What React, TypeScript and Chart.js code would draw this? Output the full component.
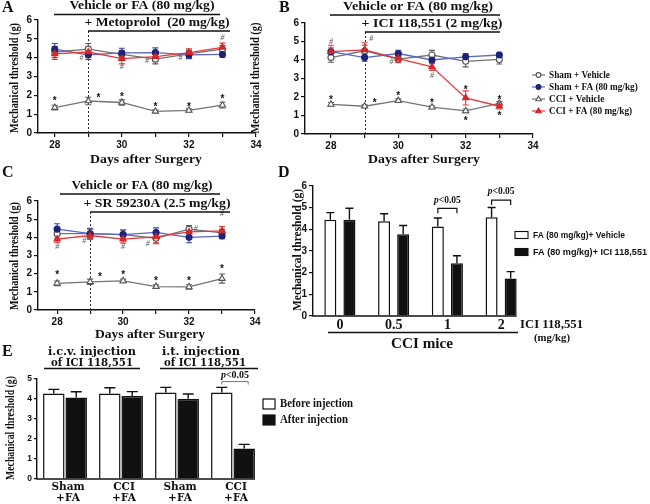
import React, { useEffect, useRef } from 'react';
import { Chart, registerables } from 'chart.js';

Chart.register(...registerables);

const W = 650;
const H = 504;
const SERIF = '"Liberation Serif", "Times New Roman", serif';
const SANS = '"Liberation Sans", Arial, sans-serif';
const WIDE = '"DejaVu Serif", serif';
const INK = '#111';

// ---------------- data ----------------
const days = [28, 29, 30, 31, 32, 33];
const dayTicks = [28, 29, 30, 31, 32, 33, 34];

// Panel A (Metoprolol)
const aShamVeh = [4.3, 4.45, 4.18, 3.92, 4.2, 4.45];
const aShamVehErr = [0.3, 0.3, 0.2, 0.25, 0.2, 0.2];
const aShamFA = [4.45, 4.15, 4.25, 4.27, 4.15, 4.17];
const aShamFAErr = [0.3, 0.25, 0.25, 0.25, 0.2, 0.15];
const aCciVeh = [1.35, 1.7, 1.62, 1.15, 1.2, 1.48];
const aCciVehErr = [0.12, 0.2, 0.14, 0.08, 0.08, 0.15];
const aCciFA = [4.2, 4.3, 3.95, 4.05, 4.27, 4.55];
const aCciFAErr = [0.3, 0.3, 0.28, 0.25, 0.2, 0.22];
const aStars = [[28, 1.8], [29.3, 2.0], [30, 2.05], [31, 1.5], [32, 1.5], [33, 1.9]];
const aHashes = [[28.8, 4.0], [30, 3.5], [30.75, 3.85], [31.75, 3.97], [33, 5.05]];

// Panel B (ICI 118,551)
const bShamVeh = [4.13, 4.5, 4.05, 4.27, 3.93, 4.03];
const bShamVehErr = [0.25, 0.3, 0.2, 0.25, 0.3, 0.25];
const bShamFA = [4.45, 4.13, 4.35, 4.0, 4.17, 4.27];
const bShamFAErr = [0.2, 0.2, 0.18, 0.2, 0.18, 0.15];
const bCciVeh = [1.6, 1.5, 1.8, 1.45, 1.25, 1.65];
const bCciVehErr = [0.1, 0.08, 0.1, 0.08, 0.1, 0.1];
const bCciFA = [4.45, 4.55, 4.08, 3.63, 1.95, 1.5];
const bCciFAErr = [0.35, 0.38, 0.2, 0.2, 0.38, 0.15];
const bStars = [[28, 1.95], [29.3, 1.8], [30, 2.15], [31, 1.8], [32, 2.5], [32, 0.85], [33, 1.95], [33, 1.1]];
const bHashes = [[28, 5.0], [29.2, 5.15], [29.8, 3.9], [31, 3.15]];

// Panel C (SR 59230A)
const cShamVeh = [4.2, 4.2, 4.15, 3.95, 4.45, 4.25];
const cShamVehErr = [0.25, 0.3, 0.25, 0.3, 0.2, 0.2];
const cShamFA = [4.45, 4.2, 4.15, 4.27, 4.0, 4.07];
const cShamFAErr = [0.3, 0.25, 0.25, 0.25, 0.3, 0.15];
const cCciVeh = [1.47, 1.55, 1.6, 1.29, 1.27, 1.73];
const cCciVehErr = [0.13, 0.15, 0.1, 0.1, 0.12, 0.25];
const cCciFA = [3.9, 4.1, 3.9, 4.02, 4.3, 4.35];
const cCciFAErr = [0.2, 0.2, 0.22, 0.32, 0.2, 0.25];
const cStars = [[28, 2.05], [29.3, 1.96], [30, 2.05], [31, 1.73], [32, 1.73], [33, 2.38]];
const cHashes = [[28, 3.45], [28.82, 3.82], [30, 3.45], [30.75, 3.64], [32.2, 4.45], [33, 5.3]];

// Panel D
const dCats = ['0', '0.5', '1', '2'];
const dVeh = [4.44, 4.37, 4.13, 4.56];
const dVehErr = [0.33, 0.35, 0.39, 0.45];
const dIci = [4.44, 3.77, 2.44, 1.73];
const dIciErr = [0.53, 0.41, 0.34, 0.32];

// Panel E
const eCats = [['Sham', '+FA'], ['CCI', '+FA'], ['Sham', '+FA'], ['CCI', '+FA']];
const eBefore = [4.28, 4.28, 4.33, 4.33];
const eBeforeErr = [0.2, 0.28, 0.25, 0.25];
const eAfter = [4.08, 4.15, 4.01, 1.53];
const eAfterErr = [0.28, 0.22, 0.24, 0.2];

// ---------------- styles ----------------
const SERIES: any[] = [
  { key: 'cf', label: 'CCI + FA (80 mg/kg)', line: '#e8383d', err: '#e33a3a', fill: '#e02a2a', stroke: '#d42020', shape: 'triangle', r: 3.6 },
  { key: 'sf', label: 'Sham + FA (80 mg/kg)', line: '#5a68c4', err: '#3a48aa', fill: '#1d2478', stroke: '#1d2478', shape: 'circle', r: 3 },
  { key: 'sv', label: 'Sham + Vehicle', line: '#747474', err: '#5c5c5c', fill: '#ffffff', stroke: '#555', shape: 'circle', r: 3 },
  { key: 'cv', label: 'CCI + Vehicle', line: '#747474', err: '#5c5c5c', fill: '#ffffff', stroke: '#555', shape: 'triangle', r: 3.6 },
];
const LEGEND_ORDER = ['sv', 'sf', 'cv', 'cf'];

function drawText(ctx: any, s: string, x: number, y: number, font: string, o: any = {}) {
  ctx.save();
  ctx.font = font;
  ctx.fillStyle = o.color || INK;
  ctx.textBaseline = 'middle';
  ctx.textAlign = 'left';
  const w = ctx.measureText(s).width;
  ctx.translate(x, y);
  if (o.rot) ctx.rotate(-Math.PI / 2);
  const sx = o.width ? o.width / w : o.sx || 1;
  ctx.scale(sx, 1);
  const align = o.align || 'center';
  const dx = align === 'center' ? -w / 2 : align === 'right' ? -w : 0;
  ctx.fillText(s, dx, 0);
  ctx.restore();
}

function hline(ctx: any, x1: number, x2: number, y: number, lw = 1.3, color = INK) {
  ctx.save();
  ctx.strokeStyle = color;
  ctx.lineWidth = lw;
  ctx.beginPath();
  ctx.moveTo(x1, y);
  ctx.lineTo(x2, y);
  ctx.stroke();
  ctx.restore();
}

function pText(ctx: any, cx: number, y: number, size: number, color = INK) {
  ctx.save();
  const f1 = `italic bold ${size}px ${SERIF}`;
  const f2 = `bold ${size}px ${SERIF}`;
  ctx.font = f1;
  const w1 = ctx.measureText('p').width;
  ctx.font = f2;
  const w2 = ctx.measureText('<0.05').width;
  const x = cx - (w1 + w2) / 2;
  ctx.fillStyle = color;
  ctx.textBaseline = 'middle';
  ctx.textAlign = 'left';
  ctx.font = f1;
  ctx.fillText('p', x, y);
  ctx.font = f2;
  ctx.fillText('<0.05', x + w1, y);
  ctx.restore();
}

function marker(ctx: any, s: any, x: number, y: number) {
  ctx.save();
  ctx.fillStyle = s.fill;
  ctx.strokeStyle = s.stroke;
  ctx.lineWidth = 1.1;
  ctx.beginPath();
  if (s.shape === 'circle') {
    ctx.arc(x, y, s.r, 0, Math.PI * 2);
  } else {
    const r = s.r;
    ctx.moveTo(x, y - r);
    ctx.lineTo(x + r * 0.95, y + r * 0.6);
    ctx.lineTo(x - r * 0.95, y + r * 0.6);
    ctx.closePath();
  }
  ctx.fill();
  ctx.stroke();
  ctx.restore();
}

const axisGrid = { display: true, drawOnChartArea: false, drawTicks: true, tickLength: 4, color: INK, lineWidth: 1.2 };
const axisBorder = { display: true, color: INK, width: 1.4 };

function padFor(area: any, yW: number, xH: number) {
  return { left: area.l - yW, right: W - area.r, top: area.t, bottom: H - area.b - xH };
}

// ---------------- panel layouts ----------------
const panelA = {
  area: { l: 38, r: 256, t: 20, b: 133 }, xmin: 27.5,
  vals: { sv: aShamVeh, sf: aShamFA, cv: aCciVeh, cf: aCciFA },
  errs: { sv: aShamVehErr, sf: aShamFAErr, cv: aCciVehErr, cf: aCciFAErr },
  stars: aStars, hashes: aHashes,
  letter: { t: 'A', x: 2, y: 8 },
  titles: [
    { t: 'Vehicle or FA (80 mg/kg)', cx: 142, y: 6, w: 145, x1: 54, x2: 220, ly: 14.5 },
    { t: '+ Metoprolol  (20 mg/kg)', cx: 157, y: 23, w: 145, x1: 88, x2: 230, ly: 31 },
  ],
  xTitle: { cx: 146, y: 160, w: 112 },
  yTitle: { cx: 15, cy: 78, w: 110 },
  legend: false,
};
const panelB = {
  area: { l: 305, r: 533, t: 23, b: 134 }, xmin: 27.23,
  vals: { sv: bShamVeh, sf: bShamFA, cv: bCciVeh, cf: bCciFA },
  errs: { sv: bShamVehErr, sf: bShamFAErr, cv: bCciVehErr, cf: bCciFAErr },
  stars: bStars, hashes: bHashes,
  letter: { t: 'B', x: 279, y: 8 },
  titles: [
    { t: 'Vehicle or FA (80 mg/kg)', cx: 418, y: 7, w: 150, x1: 330, x2: 500, ly: 15 },
    { t: '+ ICI 118,551 (2 mg/kg)', cx: 432, y: 24, w: 141, x1: 365, x2: 500, ly: 32 },
  ],
  xTitle: { cx: 424, y: 160, w: 112 },
  yTitle: { cx: 256, cy: 78, w: 111 },
  legend: true,
};
const panelC = {
  area: { l: 38, r: 255, t: 201, b: 310 }, xmin: 27.42,
  vals: { sv: cShamVeh, sf: cShamFA, cv: cCciVeh, cf: cCciFA },
  errs: { sv: cShamVehErr, sf: cShamFAErr, cv: cCciVehErr, cf: cCciFAErr },
  stars: cStars, hashes: cHashes,
  letter: { t: 'C', x: 2, y: 173 },
  titles: [
    { t: 'Vehicle or FA (80 mg/kg)', cx: 142, y: 186, w: 141, x1: 60, x2: 220, ly: 194 },
    { t: '+ SR 59230A (2.5 mg/kg)', cx: 157, y: 204, w: 147, x1: 90, x2: 230, ly: 212 },
  ],
  xTitle: { cx: 150, y: 335, w: 110 },
  yTitle: { cx: 15, cy: 256, w: 108 },
  legend: false,
};

function lineChart(canvas: HTMLCanvasElement, p: any) {
  const yW = 20;
  const xH = 20;
  const datasets = SERIES.map((s) => ({
    label: s.label,
    data: p.vals[s.key].map((v: number, i: number) => ({ x: days[i], y: v })),
    borderColor: s.line,
    borderWidth: 1.3,
    pointStyle: s.shape,
    pointRadius: s.r,
    pointBackgroundColor: s.fill,
    pointBorderColor: s.stroke,
    pointBorderWidth: 1.1,
    tension: 0,
    fill: false,
  }));
  const deco = {
    id: 'deco',
    beforeDatasetsDraw(chart: any) {
      const ctx = chart.ctx;
      const xs = chart.scales.x;
      const ys = chart.scales.y;
      ctx.save();
      ctx.strokeStyle = '#333';
      ctx.setLineDash([2, 2]);
      ctx.lineWidth = 1;
      const dx = Math.round(xs.getPixelForValue(29)) + 0.5;
      ctx.beginPath();
      ctx.moveTo(dx, p.titles[1].ly);
      ctx.lineTo(dx, ys.getPixelForValue(0));
      ctx.stroke();
      ctx.restore();
      SERIES.slice().reverse().forEach((s) => {
        const vals = p.vals[s.key];
        const errs = p.errs[s.key];
        ctx.save();
        ctx.strokeStyle = s.err;
        ctx.lineWidth = 1.1;
        vals.forEach((v: number, i: number) => {
          const x = xs.getPixelForValue(days[i]);
          const y1 = ys.getPixelForValue(v + errs[i]);
          const y2 = ys.getPixelForValue(v - errs[i]);
          ctx.beginPath();
          ctx.moveTo(x, y1);
          ctx.lineTo(x, y2);
          ctx.moveTo(x - 3, y1);
          ctx.lineTo(x + 3, y1);
          ctx.moveTo(x - 3, y2);
          ctx.lineTo(x + 3, y2);
          ctx.stroke();
        });
        ctx.restore();
      });
    },
    afterDatasetsDraw(chart: any) {
      const ctx = chart.ctx;
      const xs = chart.scales.x;
      const ys = chart.scales.y;
      p.stars.forEach((pt: number[]) => {
        drawText(ctx, '*', xs.getPixelForValue(pt[0]), ys.getPixelForValue(pt[1]) + 2.5, `bold 10px ${SANS}`);
      });
      p.hashes.forEach((pt: number[]) => {
        drawText(ctx, '#', xs.getPixelForValue(pt[0]), ys.getPixelForValue(pt[1]), `italic 8px ${SERIF}`, { color: '#555' });
      });
    },
    afterDraw(chart: any) {
      const ctx = chart.ctx;
      drawText(ctx, p.letter.t, p.letter.x, p.letter.y, `bold 16px ${SERIF}`, { align: 'left' });
      p.titles.forEach((tt: any) => {
        drawText(ctx, tt.t, tt.cx, tt.y, `bold 13px ${SERIF}`, { width: tt.w });
        hline(ctx, tt.x1, tt.x2, tt.ly, 1.3);
      });
      drawText(ctx, 'Days after Surgery', p.xTitle.cx, p.xTitle.y, `bold 13px ${SERIF}`, { width: p.xTitle.w });
      drawText(ctx, 'Mechanical threshold (g)', p.yTitle.cx, p.yTitle.cy, `bold 13px ${SERIF}`, { width: p.yTitle.w, rot: true });
      if (p.legend) {
        const rows = [75, 87, 99, 111];
        LEGEND_ORDER.forEach((k, i) => {
          const s = SERIES.find((q) => q.key === k);
          const y = rows[i];
          hline(ctx, 532, 545, y, 1.2, s.line);
          marker(ctx, { ...s, r: s.r * 0.8 }, 538.5, y);
          drawText(ctx, s.label, 549, y, `bold 11px ${SERIF}`, { align: 'left', sx: 0.84 });
        });
      }
    },
  };
  return new Chart(canvas, {
    type: 'line',
    data: { datasets },
    options: {
      responsive: false,
      animation: false,
      devicePixelRatio: 1,
      layout: { padding: padFor(p.area, yW, xH), autoPadding: false },
      plugins: { legend: { display: false }, tooltip: { enabled: false }, title: { display: false } },
      scales: {
        x: {
          type: 'linear',
          min: p.xmin,
          max: 34,
          afterFit: (s: any) => { s.height = xH; },
          afterBuildTicks: (s: any) => { s.ticks = dayTicks.map((v) => ({ value: v })); },
          ticks: {
            callback: (v: any) => (Number(v) % 2 === 0 ? String(v) : ''),
            font: { family: SANS, size: 10, weight: 'bold' },
            color: INK,
            padding: 2,
            maxRotation: 0,
            autoSkip: false,
          },
          grid: axisGrid,
          border: axisBorder,
        },
        y: {
          min: 0,
          max: 6,
          afterFit: (s: any) => { s.width = yW; },
          ticks: { stepSize: 1, font: { family: SANS, size: 10, weight: 'bold' }, color: INK, padding: 2 },
          grid: axisGrid,
          border: axisBorder,
        },
      },
    } as any,
    plugins: [deco],
  } as any);
}

function barErrors(chart: any, errsList: number[][], cap: number) {
  const ctx = chart.ctx;
  const ys = chart.scales.y;
  errsList.forEach((errs, di) => {
    const meta = chart.getDatasetMeta(di);
    const vals = chart.data.datasets[di].data;
    meta.data.forEach((bar: any, i: number) => {
      const top = ys.getPixelForValue(vals[i]);
      const y1 = ys.getPixelForValue(vals[i] + errs[i]);
      ctx.save();
      ctx.strokeStyle = INK;
      ctx.lineWidth = 1.4;
      ctx.beginPath();
      ctx.moveTo(bar.x, top);
      ctx.lineTo(bar.x, y1);
      ctx.moveTo(bar.x - cap / 2, y1);
      ctx.lineTo(bar.x + cap / 2, y1);
      ctx.stroke();
      ctx.restore();
    });
  });
}

function bracket(ctx: any, x1: number, x2: number, yTop: number, yLeg: number, color: string, lw: number) {
  ctx.save();
  ctx.strokeStyle = color;
  ctx.lineWidth = lw;
  ctx.beginPath();
  ctx.moveTo(x1, yLeg);
  ctx.lineTo(x1, yTop);
  ctx.lineTo(x2, yTop);
  ctx.lineTo(x2, yLeg);
  ctx.stroke();
  ctx.restore();
}

function chartD(canvas: HTMLCanvasElement) {
  const area = { l: 313, r: 528, t: 186, b: 316 };
  const yW = 20;
  const xH = 20;
  const deco = {
    id: 'decoD',
    afterDatasetsDraw(chart: any) {
      barErrors(chart, [dVehErr, dIciErr], 8);
    },
    afterDraw(chart: any) {
      const ctx = chart.ctx;
      const ys = chart.scales.y;
      const xs = chart.scales.x;
      const m0 = chart.getDatasetMeta(0).data;
      const m1 = chart.getDatasetMeta(1).data;
      const last = m1[m1.length - 1];
      hline(ctx, chart.chartArea.left - 0.7, last.x + last.width / 2, ys.getPixelForValue(0), 1.4);
      dCats.forEach((c, i) => {
        drawText(ctx, c, xs.getPixelForValue(i), 325, `bold 14px ${SERIF}`);
      });
      const br = [
        { i: 2, top: 4.97, leg: 4.74, txt: 5.35 },
        { i: 3, top: 5.35, leg: 5.12, txt: 5.74 },
      ];
      br.forEach((b) => {
        bracket(ctx, m0[b.i].x, m1[b.i].x, ys.getPixelForValue(b.top), ys.getPixelForValue(b.leg), INK, 1.2);
        pText(ctx, (m0[b.i].x + m1[b.i].x) / 2, ys.getPixelForValue(b.txt), 9.5);
      });
      drawText(ctx, 'D', 278, 173, `bold 16px ${SERIF}`, { align: 'left' });
      drawText(ctx, 'Mechanical threshold (g)', 298, 250, `bold 13px ${SERIF}`, { width: 122, rot: true });
      drawText(ctx, 'ICI 118,551', 520, 325, `bold 12px ${SERIF}`, { align: 'left', width: 63 });
      drawText(ctx, '(mg/kg)', 552, 338, `bold 11px ${SERIF}`, { width: 36 });
      hline(ctx, 328, 518, 332.5, 1.3);
      drawText(ctx, 'CCI mice', 422, 344, `bold 14px ${SERIF}`, { width: 62 });
      ctx.save();
      ctx.lineWidth = 1.1;
      ctx.strokeStyle = INK;
      ctx.fillStyle = '#fff';
      ctx.fillRect(515, 231.5, 13, 7);
      ctx.strokeRect(515, 231.5, 13, 7);
      ctx.fillStyle = INK;
      ctx.fillRect(515, 248.5, 13, 7);
      ctx.strokeRect(515, 248.5, 13, 7);
      ctx.restore();
      drawText(ctx, 'FA (80 mg/kg)+ Vehicle', 533, 235, `bold 9.5px ${SANS}`, { align: 'left', width: 92 });
      drawText(ctx, 'FA (80 mg/kg)+ ICI 118,551', 533, 252, `bold 9.5px ${SANS}`, { align: 'left', width: 114 });
    },
  };
  return new Chart(canvas, {
    type: 'bar',
    data: {
      labels: dCats,
      datasets: [
        { label: 'FA (80 mg/kg)+ Vehicle', data: dVeh, backgroundColor: '#ffffff', borderColor: INK, borderWidth: 1.5, categoryPercentage: 0.71, barPercentage: 0.63 },
        { label: 'FA (80 mg/kg)+ ICI 118,551', data: dIci, backgroundColor: INK, borderColor: INK, borderWidth: 1.5, categoryPercentage: 0.71, barPercentage: 0.63 },
      ],
    },
    options: {
      responsive: false,
      animation: false,
      devicePixelRatio: 1,
      layout: { padding: padFor(area, yW, xH), autoPadding: false },
      plugins: { legend: { display: false }, tooltip: { enabled: false } },
      scales: {
        x: {
          afterFit: (s: any) => { s.height = xH; },
          grid: { display: false },
          border: { display: false },
          ticks: { display: false },
        },
        y: {
          min: 0,
          max: 6,
          afterFit: (s: any) => { s.width = yW; },
          ticks: { stepSize: 1, font: { family: SANS, size: 10, weight: 'bold' }, color: INK, padding: 2 },
          grid: axisGrid,
          border: axisBorder,
        },
      },
    } as any,
    plugins: [deco],
  } as any);
}

function chartE(canvas: HTMLCanvasElement) {
  const area = { l: 37, r: 261, t: 379, b: 479 };
  const yW = 14;
  const xH = 20;
  const deco = {
    id: 'decoE',
    afterDatasetsDraw(chart: any) {
      barErrors(chart, [eBeforeErr, eAfterErr], 11);
    },
    afterDraw(chart: any) {
      const ctx = chart.ctx;
      const ys = chart.scales.y;
      const xs = chart.scales.x;
      const m0 = chart.getDatasetMeta(0).data;
      const m1 = chart.getDatasetMeta(1).data;
      const last = m1[m1.length - 1];
      hline(ctx, chart.chartArea.left - 0.7, last.x + last.width / 2, ys.getPixelForValue(0), 1.4);
      const lf = `bold 10.5px ${WIDE}`;
      eCats.forEach((c, i) => {
        const cx = xs.getPixelForValue(i) + 3;
        drawText(ctx, c[0], cx, 487, lf);
        drawText(ctx, c[1], cx, 498, lf);
      });
      bracket(ctx, m0[3].x, m1[3].x + 4, ys.getPixelForValue(4.87), ys.getPixelForValue(4.72), '#777', 1);
      pText(ctx, (m0[3].x + m1[3].x) / 2 + 2, ys.getPixelForValue(5.16), 10);
      drawText(ctx, 'E', 2, 352, `bold 16px ${SERIF}`, { align: 'left' });
      const hf = `bold 11px ${WIDE}`;
      drawText(ctx, 'i.c.v. injection', 92, 352, hf, { width: 88 });
      drawText(ctx, 'of ICI 118,551', 92, 363, hf, { width: 82 });
      hline(ctx, 44, 140, 368.5, 1.3);
      drawText(ctx, 'i.t. injection', 201, 352, hf, { width: 78 });
      drawText(ctx, 'of ICI 118,551', 205, 363, hf, { width: 82 });
      hline(ctx, 160, 258, 368.5, 1.3);
      drawText(ctx, 'Mechanical threshold (g)', 11, 428, `bold 12px ${SERIF}`, { width: 104, rot: true });
      ctx.save();
      ctx.lineWidth = 1.2;
      ctx.strokeStyle = INK;
      ctx.fillStyle = '#fff';
      ctx.fillRect(263, 399, 12, 10);
      ctx.strokeRect(263, 399, 12, 10);
      ctx.fillStyle = INK;
      ctx.fillRect(263, 415, 12, 10);
      ctx.strokeRect(263, 415, 12, 10);
      ctx.restore();
      drawText(ctx, 'Before injection', 280, 404, `bold 13px ${SERIF}`, { align: 'left', width: 73 });
      drawText(ctx, 'After injection', 280, 420, `bold 13px ${SERIF}`, { align: 'left', width: 68 });
    },
  };
  return new Chart(canvas, {
    type: 'bar',
    data: {
      labels: eCats,
      datasets: [
        { label: 'Before injection', data: eBefore, backgroundColor: '#ffffff', borderColor: INK, borderWidth: 1.5, categoryPercentage: 0.8, barPercentage: 0.96 },
        { label: 'After injection', data: eAfter, backgroundColor: INK, borderColor: INK, borderWidth: 1.5, categoryPercentage: 0.8, barPercentage: 0.96 },
      ],
    },
    options: {
      responsive: false,
      animation: false,
      devicePixelRatio: 1,
      layout: { padding: padFor(area, yW, xH), autoPadding: false },
      plugins: { legend: { display: false }, tooltip: { enabled: false } },
      scales: {
        x: {
          afterFit: (s: any) => { s.height = xH; },
          grid: { display: false },
          border: { display: false },
          ticks: { display: false },
        },
        y: {
          min: 0,
          max: 5,
          afterFit: (s: any) => { s.width = yW; },
          ticks: { stepSize: 1, font: { family: SANS, size: 8.5, weight: 'bold' }, color: INK, padding: 2 },
          grid: { ...axisGrid, tickLength: 3 },
          border: axisBorder,
        },
      },
    } as any,
    plugins: [deco],
  } as any);
}

export default function App() {
  const refs = useRef<(HTMLCanvasElement | null)[]>([]);
  useEffect(() => {
    const c = refs.current;
    const charts = [
      lineChart(c[0]!, panelA),
      lineChart(c[1]!, panelB),
      lineChart(c[2]!, panelC),
      chartD(c[3]!),
      chartE(c[4]!),
    ];
    return () => charts.forEach((ch) => ch.destroy());
  }, []);
  return (
    <div style={{ position: 'fixed', left: 0, top: 0, width: W, height: H, background: '#fff', overflow: 'hidden' }}>
      {[0, 1, 2, 3, 4].map((i) => (
        <canvas
          key={i}
          ref={(el) => { refs.current[i] = el; }}
          width={W}
          height={H}
          style={{ position: 'absolute', left: 0, top: 0, width: W, height: H }}
        />
      ))}
    </div>
  );
}
